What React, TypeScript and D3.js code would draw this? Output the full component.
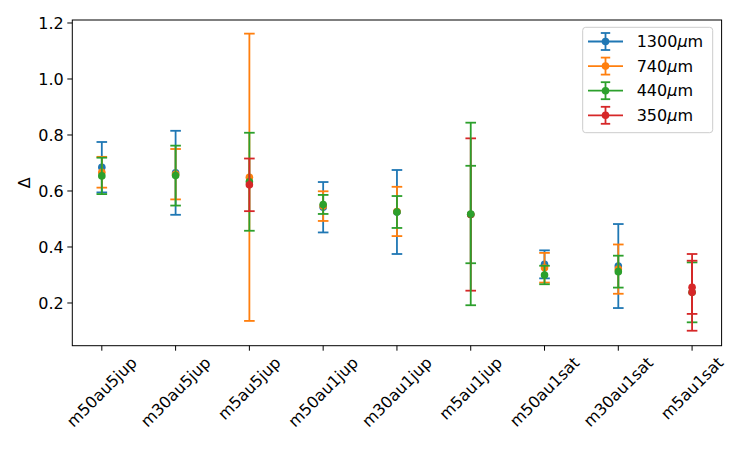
import { useEffect, useRef } from 'react'
import * as d3 from 'd3'

const categories = ['m50au5jup', 'm30au5jup', 'm5au5jup', 'm50au1jup', 'm30au1jup', 'm5au1jup', 'm50au1sat', 'm30au1sat', 'm5au1sat']
const seriesNames = ['1300', '740', '440', '350']
const seriesColors = ['#1f77b4', '#ff7f0e', '#2ca02c', '#d62728']

const values1300 = [0.685, 0.665, null, 0.542, 0.525, null, 0.338, 0.332, null]
const errors1300 = [0.09, 0.15, null, 0.09, 0.15, null, 0.05, 0.15, null]
const values740 = [0.667, 0.66, 0.649, 0.546, 0.527, null, 0.326, 0.321, null]
const errors740 = [0.055, 0.09, 0.513, 0.053, 0.088, null, 0.053, 0.088, null]
const values440 = [0.654, 0.655, 0.633, 0.552, 0.525, 0.516, 0.3, 0.312, 0.238]
const errors440 = [0.065, 0.107, 0.175, 0.034, 0.057, 0.174, 0.033, 0.057, 0.107]
const values350 = [null, null, 0.622, null, null, 0.516, null, null, 0.238]
const errors350 = [null, null, 0.094, null, null, 0.272, null, null, 0.137]

// second runs drawn after the main series (440 and 350 again)
const extraSeries = [2, 3]
const extraValues = [[null, null, null, null, null, 0.518, null, null, null], [null, null, null, null, null, null, null, null, 0.256]]
const extraErrors = [[null, null, null, null, null, 0.326, null, null, null], [null, null, null, null, null, null, null, null, 0.095]]

const yTicks = [0.2, 0.4, 0.6, 0.8, 1.0, 1.2]

export default function App() {
  const svgRef = useRef<SVGSVGElement>(null)

  useEffect(() => {
    if (!svgRef.current) return
    const svg = d3.select(svgRef.current)
    svg.selectAll('*').remove()

    const font = 'DejaVu Sans, sans-serif'
    const fs = 16
    const left = 72.3, right = 721.6, top = 20, bottom = 345.7

    const x = d3.scaleLinear().domain([-0.4, categories.length - 1 + 0.4]).range([left, right])
    const y = d3.scaleLinear().domain([0.0475, 1.2107]).range([bottom, top])

    const layers: { color: string; vals: (number | null)[]; errs: (number | null)[] }[] = [
      { color: seriesColors[0], vals: values1300, errs: errors1300 },
      { color: seriesColors[1], vals: values740, errs: errors740 },
      { color: seriesColors[2], vals: values440, errs: errors440 },
      { color: seriesColors[3], vals: values350, errs: errors350 },
      ...extraSeries.map((s, i) => ({ color: seriesColors[s], vals: extraValues[i], errs: extraErrors[i] })),
    ]

    const capHalf = 5.3
    const lw = 1.8

    // error bars, caps, then markers for each series
    layers.forEach(layer => {
      const pts = layer.vals
        .map((v, i) => ({ i, v, e: layer.errs[i] }))
        .filter(d => d.v != null && d.e != null) as { i: number; v: number; e: number }[]
      const g = svg.append('g')
      g.selectAll('.bar').data(pts).enter().append('line')
        .attr('x1', d => x(d.i)).attr('x2', d => x(d.i))
        .attr('y1', d => y(d.v - d.e)).attr('y2', d => y(d.v + d.e))
        .attr('stroke', layer.color).attr('stroke-width', lw)
      pts.forEach(d => {
        ;[d.v - d.e, d.v + d.e].forEach(c => {
          g.append('line')
            .attr('x1', x(d.i) - capHalf).attr('x2', x(d.i) + capHalf)
            .attr('y1', y(c)).attr('y2', y(c))
            .attr('stroke', layer.color).attr('stroke-width', lw)
        })
      })
      g.selectAll('.dot').data(pts).enter().append('circle')
        .attr('cx', d => x(d.i)).attr('cy', d => y(d.v)).attr('r', 3.8)
        .attr('fill', layer.color)
    })

    // spines
    svg.append('rect')
      .attr('x', left).attr('y', top).attr('width', right - left).attr('height', bottom - top)
      .attr('fill', 'none').attr('stroke', '#000').attr('stroke-width', 1)

    // y ticks
    const yg = svg.append('g')
    yTicks.forEach(t => {
      yg.append('line').attr('x1', left - 5).attr('x2', left).attr('y1', y(t)).attr('y2', y(t))
        .attr('stroke', '#000').attr('stroke-width', 1)
      yg.append('text').attr('x', left - 8.5).attr('y', y(t)).attr('dy', '0.36em')
        .attr('text-anchor', 'end').attr('font-family', font).attr('font-size', fs)
        .text(d3.format('.1f')(t))
    })

    svg.append('text')
      .attr('transform', `translate(24,${(top + bottom) / 2}) rotate(-90)`)
      .attr('text-anchor', 'middle').attr('dy', '0.36em')
      .attr('font-family', font).attr('font-size', fs).text('Δ')

    // x ticks, labels rotated 45° and centred under the tick
    const xg = svg.append('g')
    categories.forEach((c, i) => {
      xg.append('line').attr('x1', x(i)).attr('x2', x(i)).attr('y1', bottom).attr('y2', bottom + 5)
        .attr('stroke', '#000').attr('stroke-width', 1)
      const t = xg.append('text')
        .attr('text-anchor', 'middle').attr('dominant-baseline', 'central')
        .attr('font-family', font).attr('font-size', fs).text(c)
      const len = (t.node() as SVGTextElement).getComputedTextLength()
      const half = (len + fs) * Math.SQRT1_2 / 2
      t.attr('transform', `translate(${x(i)},${bottom + 8.5 + half}) rotate(-45)`)
    })

    // legend
    const lg = svg.append('g')
    lg.append('rect').attr('x', 582.7).attr('y', 27.3).attr('width', 130).attr('height', 105.4)
      .attr('rx', 3).attr('fill', '#fff').attr('fill-opacity', 0.8)
      .attr('stroke', '#cccccc').attr('stroke-width', 1)
    seriesNames.forEach((n, i) => {
      const cy = 41.5 + i * 24.6
      const col = seriesColors[i]
      const row = lg.append('g')
      row.append('line').attr('x1', 588).attr('x2', 623).attr('y1', cy).attr('y2', cy)
        .attr('stroke', col).attr('stroke-width', lw)
      row.append('line').attr('x1', 605.5).attr('x2', 605.5).attr('y1', cy - 8.5).attr('y2', cy + 8.5)
        .attr('stroke', col).attr('stroke-width', lw)
      ;[cy - 8.5, cy + 8.5].forEach(cc => {
        row.append('line').attr('x1', 605.5 - 4.7).attr('x2', 605.5 + 4.7).attr('y1', cc).attr('y2', cc)
          .attr('stroke', col).attr('stroke-width', lw)
      })
      row.append('circle').attr('cx', 605.5).attr('cy', cy).attr('r', 3.8).attr('fill', col)
      const txt = row.append('text').attr('x', 636.7).attr('y', cy).attr('dy', '0.36em')
        .attr('font-family', font).attr('font-size', fs)
      txt.append('tspan').text(n)
      txt.append('tspan').attr('font-style', 'italic').text('μ')
      txt.append('tspan').text('m')
    })
  }, [])

  return (
    <svg ref={svgRef} width={747} height={449}
      style={{ position: 'absolute', left: 0, top: 0, background: '#fff' }} />
  )
}
